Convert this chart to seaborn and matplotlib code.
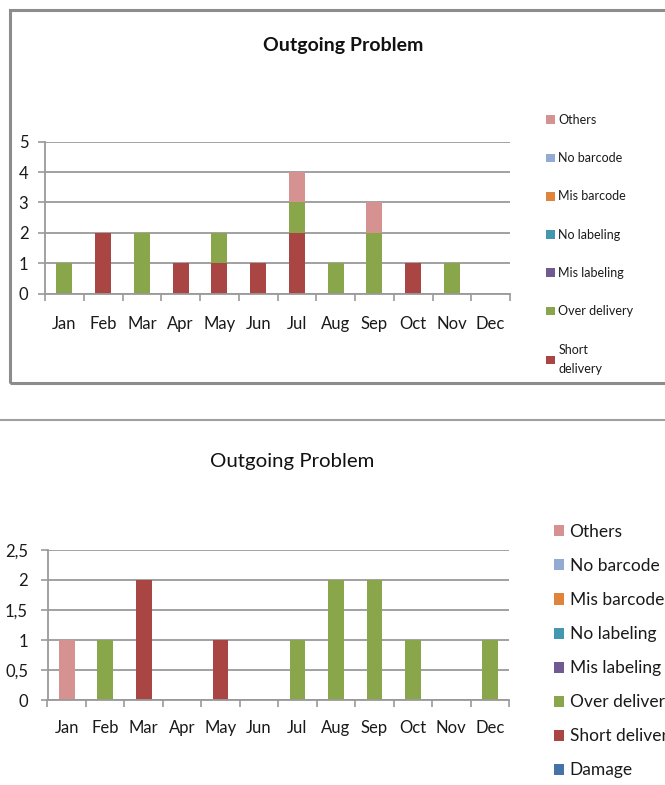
import numpy as np
import pandas as pd
import seaborn as sns
import matplotlib.pyplot as plt
from matplotlib.patches import Patch, Rectangle
from matplotlib.lines import Line2D

months = ["Jan", "Feb", "Mar", "Apr", "May", "Jun", "Jul", "Aug", "Sep", "Oct", "Nov", "Dec"]

# top chart (stacked), bottom-up order
top_short = [0, 2, 0, 1, 1, 1, 2, 0, 0, 1, 0, 0]
top_over = [1, 0, 2, 0, 1, 0, 1, 1, 2, 0, 1, 0]
top_mis_label = [0, 0, 0, 0, 0, 0, 0, 0, 0, 0, 0, 0]
top_no_label = [0, 0, 0, 0, 0, 0, 0, 0, 0, 0, 0, 0]
top_mis_barcode = [0, 0, 0, 0, 0, 0, 0, 0, 0, 0, 0, 0]
top_no_barcode = [0, 0, 0, 0, 0, 0, 0, 0, 0, 0, 0, 0]
top_others = [0, 0, 0, 0, 0, 0, 1, 0, 1, 0, 0, 0]
top_yticks = [0, 1, 2, 3, 4, 5]

# bottom chart
bot_damage = [0, 0, 0, 0, 0, 0, 0, 0, 0, 0, 0, 0]
bot_short = [0, 0, 2, 0, 1, 0, 0, 0, 0, 0, 0, 0]
bot_over = [0, 1, 0, 0, 0, 0, 1, 2, 2, 1, 0, 1]
bot_mis_label = [0, 0, 0, 0, 0, 0, 0, 0, 0, 0, 0, 0]
bot_no_label = [0, 0, 0, 0, 0, 0, 0, 0, 0, 0, 0, 0]
bot_mis_barcode = [0, 0, 0, 0, 0, 0, 0, 0, 0, 0, 0, 0]
bot_no_barcode = [0, 0, 0, 0, 0, 0, 0, 0, 0, 0, 0, 0]
bot_others = [1, 0, 0, 0, 0, 0, 0, 0, 0, 0, 0, 0]
bot_yticks = [0, 0.5, 1, 1.5, 2, 2.5]
bot_ytick_labels = ["0", "0,5", "1", "1,5", "2", "2,5"]

colors = {
    "Others": "#D59290",
    "No barcode": "#93ABD3",
    "Mis barcode": "#E0843B",
    "No labeling": "#4398AF",
    "Mis labeling": "#6F5A92",
    "Over delivery": "#8AA64B",
    "Short delivery": "#A94644",
    "Damage": "#4672A8",
}

sns.set_theme(style="white")
plt.rcParams["font.family"] = ["Lato", "DejaVu Sans"]

GRID = "#9a9a9a"


def stacked(ax, series):
    # series: list of (name, values) bottom-up
    cum = np.zeros(len(months))
    for name, vals in series:
        df = pd.DataFrame({"month": months, "value": vals})
        sns.barplot(data=df, x="month", y="value", bottom=cum, color=colors[name],
                    saturation=1, width=0.41, linewidth=0, ax=ax, errorbar=None)
        cum = cum + np.array(vals)


def style_axes(ax, yticks, ylabels, ysize, xsize, ypad, xpad):
    ax.set_ylim(yticks[0], yticks[-1])
    ax.set_xlim(-0.5, 11.5)
    ax.set_yticks(yticks)
    ax.set_yticklabels(ylabels)
    ax.yaxis.grid(True, color=GRID, linewidth=1.3)
    ax.set_axisbelow(True)
    ax.set_xlabel("")
    ax.set_ylabel("")
    for s in ["top", "right"]:
        ax.spines[s].set_visible(False)
    for s in ["left", "bottom"]:
        ax.spines[s].set_color(GRID)
        ax.spines[s].set_linewidth(1.3)
    ax.set_xticks(np.arange(-0.5, 12, 1), minor=True)
    ax.tick_params(axis="x", which="major", length=0, pad=xpad, labelsize=xsize, colors="#1a1a1a")
    ax.tick_params(axis="x", which="minor", length=5, width=1.2, color=GRID, direction="out")
    ax.tick_params(axis="y", which="major", length=5, width=1.2, color=GRID, direction="out",
                   pad=ypad, labelsize=ysize, labelcolor="#1a1a1a")
    ax.tick_params(left=True, bottom=True, which="both")


fig = plt.figure(figsize=(6.65, 7.85), dpi=100)

# frame of the upper chart
fig.patches.append(Rectangle((10 / 665, 1 - 382.5 / 785), 1.0, (382.5 - 9.5) / 785,
                             transform=fig.transFigure, fill=False,
                             edgecolor="#8c8c8c", linewidth=2.2))
# top line of the lower chart
fig.lines.append(Line2D([0, 1], [1 - 419.5 / 785] * 2, transform=fig.transFigure,
                        color="#a0a0a0", linewidth=1.5))

ax1 = fig.add_axes([45 / 665, 1 - 293.7 / 785, 465 / 665, 152 / 785])
stacked(ax1, [("Short delivery", top_short), ("Over delivery", top_over),
              ("Mis labeling", top_mis_label), ("No labeling", top_no_label),
              ("Mis barcode", top_mis_barcode), ("No barcode", top_no_barcode),
              ("Others", top_others)])
style_axes(ax1, top_yticks, [str(t) for t in top_yticks], 12, 12, 7, 16)
fig.text(343 / 665, 1 - 45 / 785, "Outgoing Problem", ha="center", va="center",
         fontsize=14, fontweight="bold", color="#111111")

top_names = ["Others", "No barcode", "Mis barcode", "No labeling", "Mis labeling",
             "Over delivery", "Short delivery"]
top_handles = [Patch(facecolor=colors[n], edgecolor="none") for n in top_names]
top_labels = [n if n != "Short delivery" else "Short\ndelivery" for n in top_names]
leg1 = ax1.legend(top_handles, top_labels, loc="upper left", bbox_to_anchor=(546 / 665, 1 - 114 / 785),
                  bbox_transform=fig.transFigure, frameon=False, fontsize=9, handlelength=0.7,
                  handleheight=0.7, handletextpad=0.3, labelspacing=2.1, borderpad=0,
                  borderaxespad=0, labelcolor="#1a1a1a")
leg1.get_texts()[-1].set_linespacing(1.75)

ax2 = fig.add_axes([47.5 / 665, 1 - 700.3 / 785, 461.5 / 665, 150.6 / 785])
stacked(ax2, [("Damage", bot_damage), ("Short delivery", bot_short), ("Over delivery", bot_over),
              ("Mis labeling", bot_mis_label), ("No labeling", bot_no_label),
              ("Mis barcode", bot_mis_barcode), ("No barcode", bot_no_barcode),
              ("Others", bot_others)])
style_axes(ax2, bot_yticks, bot_ytick_labels, 12, 12, 9, 14)
fig.text(292 / 665, 1 - 461.5 / 785, "Outgoing Problem", ha="center", va="center",
         fontsize=14.7, color="#111111")

bot_names = ["Others", "No barcode", "Mis barcode", "No labeling", "Mis labeling",
             "Over delivery", "Short delivery", "Damage"]
bot_handles = [Patch(facecolor=colors[n], edgecolor="none") for n in bot_names]
ax2.legend(bot_handles, bot_names, loc="upper left", bbox_to_anchor=(554 / 665, 1 - 524 / 785),
           bbox_transform=fig.transFigure, frameon=False, fontsize=12.5, handlelength=0.6,
           handleheight=0.6, handletextpad=0.3, labelspacing=1.04, borderpad=0,
           borderaxespad=0, labelcolor="#1a1a1a")

fig.savefig("out.png", dpi=100)
